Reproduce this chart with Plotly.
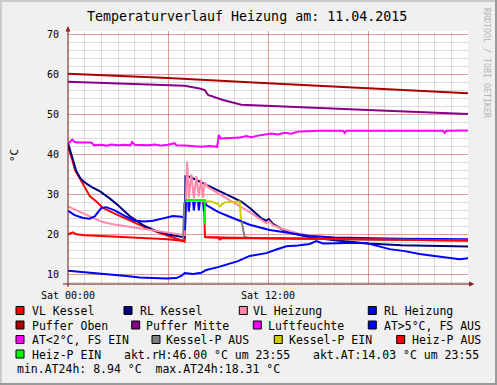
import plotly.graph_objects as go

# ---------------- data (hours since Sat 00:00, °C) ----------------
pufo_t = [0, 6, 12, 18, 24]
pufo_v = [60.2, 59.1, 57.8, 56.5, 55.3]

pufm_t = [0, 4, 7.0, 7.9, 8.2, 8.4, 9.3, 10.4, 12, 18, 24]
pufm_v = [58.2, 57.6, 57.2, 56.5, 56.1, 54.9, 53.6, 52.4, 52.1, 51.1, 50.1]

lf_t = [0, 0.25, 0.4, 0.6, 1.4, 1.55, 2.0, 2.3, 2.6, 3.0, 3.4, 3.75, 3.85, 4.0, 4.8, 5.2,
        5.6, 6.0, 6.4, 6.5, 7.0, 7.5, 8.0, 8.5, 8.95, 9.05, 9.15, 9.8, 10.3, 10.7, 11.0, 11.4,
        11.8, 12.2, 12.6, 13.0, 13.4, 13.8, 14.3, 15.0, 16.5, 16.6, 16.7, 19.0, 22.5, 22.6, 22.7, 24]
lf_v = [42.6, 43.7, 43.1, 43.0, 43.0, 42.3, 42.4, 42.2, 42.5, 42.3, 42.4, 42.3, 43.1, 42.4, 42.3, 42.5,
        42.2, 42.4, 42.8, 42.3, 42.2, 42.0, 41.9, 42.1, 41.9, 44.9, 44.0, 44.1, 44.2, 44.6, 44.3, 44.7,
        44.9, 45.2, 45.0, 45.4, 45.2, 45.7, 45.8, 45.9, 45.9, 45.4, 45.9, 45.9, 45.9, 45.4, 45.9, 46.0]

at_t = [0, 0.3, 1.0, 1.5, 2.5, 3.5, 4.3, 5.0, 5.9, 6.5, 6.8, 7.0, 7.5, 8.0, 8.3, 9.0, 9.5, 10.2,
        10.9, 11.9, 12.5, 13.1, 13.8, 14.5, 14.9, 15.3, 16.1, 17.0, 17.9, 18.5, 19.3, 20.2, 21.1,
        22.0, 22.9, 23.5, 24]
at_v = [10.9, 10.8, 10.5, 10.3, 10.0, 9.6, 9.2, 9.1, 8.94, 9.05, 9.6, 10.3, 10.1, 10.4, 11.1, 11.8,
        12.4, 13.3, 14.6, 15.3, 16.2, 17.0, 17.2, 17.6, 18.31, 17.7, 17.8, 17.9, 17.8, 17.2, 16.3,
        15.8, 15.1, 14.6, 14.05, 13.8, 14.03]

vlk_t = [0, 0.2, 0.42, 0.7, 0.92, 1.32, 1.7, 2.1, 2.8, 3.5, 4.1, 4.7, 5.4, 6.1, 6.6, 7.0, 7.05,
         7.5, 8.15, 8.22, 8.6, 9.0, 9.1, 9.3, 9.6, 10, 12, 14, 16, 18, 20, 22, 24]
vlk_v = [42.0, 39.5, 36.1, 34.0, 32.4, 29.5, 28.2, 26.6, 25.2, 23.9, 22.7, 21.6, 20.5, 19.5, 18.8,
         18.2, 28.5, 28.5, 28.5, 19.3, 19.2, 19.2, 18.7, 19.1, 19.0, 19.1, 19.0, 18.9, 18.8, 18.7,
         18.6, 18.5, 18.45]

rlk_t = [0, 0.25, 0.5, 0.75, 1.0, 1.4, 1.9, 2.5, 3.0, 3.7, 4.5, 5.3, 6.1, 6.9, 7.0, 7.05, 7.3,
         8.0, 9.0, 10.4, 11.0, 11.6, 11.9, 12.05, 12.3, 12.9, 13.5, 14.5, 16, 18, 20, 22, 24]
rlk_v = [42.8, 39.5, 35.8, 34.0, 33.0, 31.9, 30.8, 29.0, 27.3, 24.6, 22.3, 20.8, 19.9, 19.3, 19.2,
         34.5, 34.4, 33.0, 31.0, 28.2, 26.3, 24.0, 23.4, 23.8, 22.6, 21.1, 20.2, 19.3, 18.5, 17.7,
         17.3, 17.1, 16.95]

vlh_t = [0, 0.5, 0.9, 1.4, 2.0, 2.7, 3.5, 4.2, 5.0, 6.0, 7.0, 7.05, 7.15, 7.25, 7.4, 7.55, 7.7,
         7.85, 7.98, 8.1, 8.2, 8.4, 9.0, 10.4, 11.0, 11.6, 11.9, 12.05, 12.3, 12.7, 13.9, 15, 16,
         18, 20, 22, 24]
vlh_v = [27.0, 26.0, 25.3, 24.2, 23.2, 22.5, 22.0, 21.5, 21.1, 20.5, 19.8, 27.0, 38.2, 29.0, 35.0,
         29.0, 34.5, 29.5, 33.7, 29.2, 33.0, 31.8, 30.3, 27.0, 25.3, 23.6, 22.8, 23.3, 22.3, 21.6,
         20.1, 19.5, 19.1, 18.8, 18.6, 18.5, 18.45]

rlh_t = [0, 0.4, 0.9, 1.3, 1.6, 2.0, 2.3, 2.8, 3.4, 4.0, 4.6, 5.1, 5.7, 6.3, 6.8, 6.98, 7.02,
         7.08, 7.2, 7.25, 7.32, 7.5, 7.55, 7.62, 7.8, 7.85, 7.92, 8.1, 8.15, 8.22, 8.3, 9.0, 9.7,
         10.9, 12.1, 13.3, 14.5, 16, 18, 20, 22, 24]
rlh_v = [25.9, 24.8, 24.1, 23.9, 24.5, 26.6, 26.8, 26.0, 24.6, 23.4, 23.2, 23.4, 24.0, 24.6, 24.4,
         24.2, 21.0, 28.4, 28.4, 25.7, 28.4, 28.4, 26.0, 28.4, 28.4, 26.0, 28.4, 28.4, 25.8, 28.2,
         27.3, 25.6, 24.4, 22.4, 21.1, 20.3, 19.6, 19.2, 19.0, 18.9, 18.85, 18.8]

# Kessel-Pumpe (state 1 = EIN)
kp_t = [6.9, 6.97, 7.05, 7.5, 8.2, 8.6, 9.0, 9.1, 9.4, 9.8, 10.3, 10.38, 10.42, 10.6, 11, 14, 18, 24]
kp_v = [18.4, 28.0, 28.3, 28.4, 28.3, 28.2, 27.6, 27.0, 28.0, 28.1, 28.2, 23.6, 23.2, 19.3, 19.1,
        18.9, 18.7, 18.45]
kp_on = [0, 0, 1, 1, 1, 1, 1, 1, 1, 1, 1, 1, 0, 0, 0, 0, 0, 0]

# Heiz-Pumpe (state 1 = EIN)
hp_t = [0, 0.3, 0.5, 1, 2, 3, 4, 5, 6, 7.0, 7.05, 8.2, 8.22, 8.27, 12, 24]
hp_v = [20.0, 20.5, 20.0, 19.8, 19.6, 19.4, 19.2, 19.0, 18.8, 18.3, 28.6, 28.6, 22.5, 19.3, 19.0, 18.45]
hp_on = [0, 0, 0, 0, 0, 0, 0, 0, 0, 0, 1, 1, 1, 0, 0, 0]

legend_labels = ["VL Kessel", "RL Kessel", "VL Heizung", "RL Heizung",
                 "Puffer Oben", "Puffer Mitte", "Luftfeuchte", "AT>5°C, FS AUS",
                 "AT<2°C, FS EIN", "Kessel-P AUS", "Kessel-P EIN", "Heiz-P AUS",
                 "Heiz-P EIN"]
legend_colors = ["#FF0000", "#000080", "#FF8AAA", "#0000FF",
                 "#AA0000", "#880088", "#FF00FF", "#0000FF",
                 "#FF00FF", "#808080", "#CCCC00", "#FF0000",
                 "#00FF00"]
gprint_texts = ["akt.rH:46.00 °C um 23:55", "akt.AT:14.03 °C um 23:55",
                "min.AT24h: 8.94 °C  max.AT24h:18.31 °C"]
title_text = "Temperaturverlauf Heizung am: 11.04.2015"
x_tickvals = [0, 6, 12, 18]
x_ticktext = ["Sat 00:00", "", "Sat 12:00", ""]
y_tickvals = [10, 20, 30, 40, 50, 60, 70]

# ---------------- layout geometry ----------------
W, H = 497, 385
L, R, T, B = 68, 29, 31, 101
PW, PH = W - L - R, H - T - B
BOT = H - B
MONO = "DejaVu Sans Mono"


def px(x):
    return (x - L) / PW


def py(y):
    return (BOT - y) / PH


def split_state(t, v, st, want):
    xs, ys = [], []
    for ti, vi, si in zip(t, v, st):
        if si == want:
            xs.append(ti)
            ys.append(vi)
        elif xs and xs[-1] is not None:
            xs.append(None)
            ys.append(None)
    return xs, ys


fig = go.Figure()


def line(x, y, color, width=2):
    fig.add_trace(go.Scatter(x=x, y=y, mode="lines", line=dict(color=color, width=width),
                             hoverinfo="skip", showlegend=False, connectgaps=False))


line(vlk_t, vlk_v, legend_colors[0])
line(rlk_t, rlk_v, legend_colors[1])
line(vlh_t, vlh_v, legend_colors[2])
line(rlh_t, rlh_v, legend_colors[3])
line(pufo_t, pufo_v, legend_colors[4])
line(pufm_t, pufm_v, legend_colors[5])
line(lf_t, lf_v, legend_colors[6])
line(at_t, at_v, legend_colors[7])
xs, ys = split_state(kp_t, kp_v, kp_on, 0)
line(xs, ys, legend_colors[9])
xs, ys = split_state(kp_t, kp_v, kp_on, 1)
line(xs, ys, legend_colors[10])
xs, ys = split_state(hp_t, hp_v, hp_on, 0)
line(xs, ys, legend_colors[11])
xs, ys = split_state(hp_t, hp_v, hp_on, 1)
line(xs, ys, legend_colors[12])

MAJ = "rgba(235,30,30,0.33)"
MIN = "rgba(140,140,140,0.3)"

fig.update_layout(
    width=W, height=H,
    margin=dict(l=L, r=R, t=T, b=B, pad=0),
    paper_bgcolor="#F0F0F0", plot_bgcolor="#FFFFFF",
    showlegend=False,
    xaxis=dict(range=[0, 24], tickmode="array", tickvals=x_tickvals, ticktext=x_ticktext,
               showgrid=True, gridcolor=MAJ, gridwidth=1, zeroline=False, showline=False,
               ticks="", ticklabelstandoff=4,
               tickfont=dict(family=MONO, size=10, color="#000000"),
               minor=dict(tickmode="linear", tick0=0, dtick=1, showgrid=True,
                          gridcolor=MIN, gridwidth=1, ticks=""),
               fixedrange=True),
    yaxis=dict(range=[7.575, 70.875], tickmode="array", tickvals=y_tickvals,
               ticktext=[str(v) for v in y_tickvals],
               showgrid=True, gridcolor=MAJ, gridwidth=1, zeroline=False, showline=False,
               ticks="", ticklabelstandoff=8,
               tickfont=dict(family=MONO, size=10, color="#000000"),
               minor=dict(tickmode="linear", tick0=0, dtick=2, showgrid=True,
                          gridcolor=MIN, gridwidth=1, ticks=""),
               fixedrange=True),
)

shapes = []
AX = "#6A1515"
# axes
shapes.append(dict(type="line", xref="paper", yref="paper", x0=px(68), x1=px(68),
                   y0=py(287), y1=py(30), line=dict(color=AX, width=1), layer="above"))
shapes.append(dict(type="line", xref="paper", yref="paper", x0=px(63), x1=px(470),
                   y0=py(284), y1=py(284), line=dict(color=AX, width=1), layer="above"))
# arrows
shapes.append(dict(type="path", xref="paper", yref="paper",
                   path=f"M {px(65.5)},{py(31.5)} L {px(70.5)},{py(31.5)} L {px(68)},{py(26)} Z",
                   fillcolor="#8E1C1C", line=dict(width=0), layer="above"))
shapes.append(dict(type="path", xref="paper", yref="paper",
                   path=f"M {px(469)},{py(281.5)} L {px(469)},{py(286.5)} L {px(474.5)},{py(284)} Z",
                   fillcolor="#8E1C1C", line=dict(width=0), layer="above"))
# 3D frame
shapes.append(dict(type="rect", xref="paper", yref="paper", x0=px(0), x1=px(2), y0=py(0), y1=py(385),
                   fillcolor="#CBCBCB", line=dict(width=0), layer="above"))
shapes.append(dict(type="rect", xref="paper", yref="paper", x0=px(0), x1=px(497), y0=py(0), y1=py(2),
                   fillcolor="#CBCBCB", line=dict(width=0), layer="above"))
shapes.append(dict(type="rect", xref="paper", yref="paper", x0=px(495), x1=px(497), y0=py(0), y1=py(385),
                   fillcolor="#999999", line=dict(width=0), layer="above"))
shapes.append(dict(type="rect", xref="paper", yref="paper", x0=px(0), x1=px(497), y0=py(383), y1=py(385),
                   fillcolor="#999999", line=dict(width=0), layer="above"))

# legend positions: (row, square x, text x)
legend_pos = [(0, 16, 31), (0, 124, 138.5), (0, 239.3, 252), (0, 368.3, 383),
              (1, 16, 31), (1, 131.7, 145), (1, 253.3, 267), (1, 368.3, 383),
              (2, 16, 31), (2, 152, 164.5), (2, 274.3, 288.3), (2, 396.7, 410.5),
              (3, 16, 31)]
ROW_Y = [310.5, 325, 339.5, 354, 368.5]
LEG_FONT = dict(family=MONO, size=11.5, color="#000000")

annotations = []
for (row, sx, tx), lab, col in zip(legend_pos, legend_labels, legend_colors):
    cy = ROW_Y[row]
    shapes.append(dict(type="rect", xref="paper", yref="paper", x0=px(sx), x1=px(sx + 8),
                       y0=py(cy - 4), y1=py(cy + 4), fillcolor=col,
                       line=dict(color="#000000", width=1), layer="above"))
    annotations.append(dict(x=px(tx), y=py(cy + 0.5), xref="paper", yref="paper", text=lab,
                            showarrow=False, xanchor="left", yanchor="middle", font=LEG_FONT,
                            borderpad=0))
for (row, tx), txt in zip([(3, 122.7), (3, 312.3), (4, 16)], gprint_texts):
    annotations.append(dict(x=px(tx), y=py(ROW_Y[row] + 0.5), xref="paper", yref="paper", text=txt,
                            showarrow=False, xanchor="left", yanchor="middle", font=LEG_FONT,
                            borderpad=0))

annotations.append(dict(x=px(247), y=py(16.5), xref="paper", yref="paper", text=title_text,
                        showarrow=False, xanchor="center", yanchor="middle",
                        font=dict(family=MONO, size=13.3, color="#000000"), borderpad=0))
annotations.append(dict(x=px(14), y=py(156), xref="paper", yref="paper", text="°C",
                        showarrow=False, xanchor="center", yanchor="middle", textangle=-90,
                        font=dict(family=MONO, size=11, color="#000000"), borderpad=0))
annotations.append(dict(x=px(487), y=py(63), xref="paper", yref="paper",
                        text="RRDTOOL / TOBI OETIKER",
                        showarrow=False, xanchor="center", yanchor="middle", textangle=90,
                        font=dict(family=MONO, size=8.3, color="#B4B4B4"), borderpad=0))

fig.update_layout(shapes=shapes, annotations=annotations)
fig.write_html("out.html", config={"displayModeBar": False},
               post_script="document.body.style.margin='0';document.body.style.overflow='hidden';")
